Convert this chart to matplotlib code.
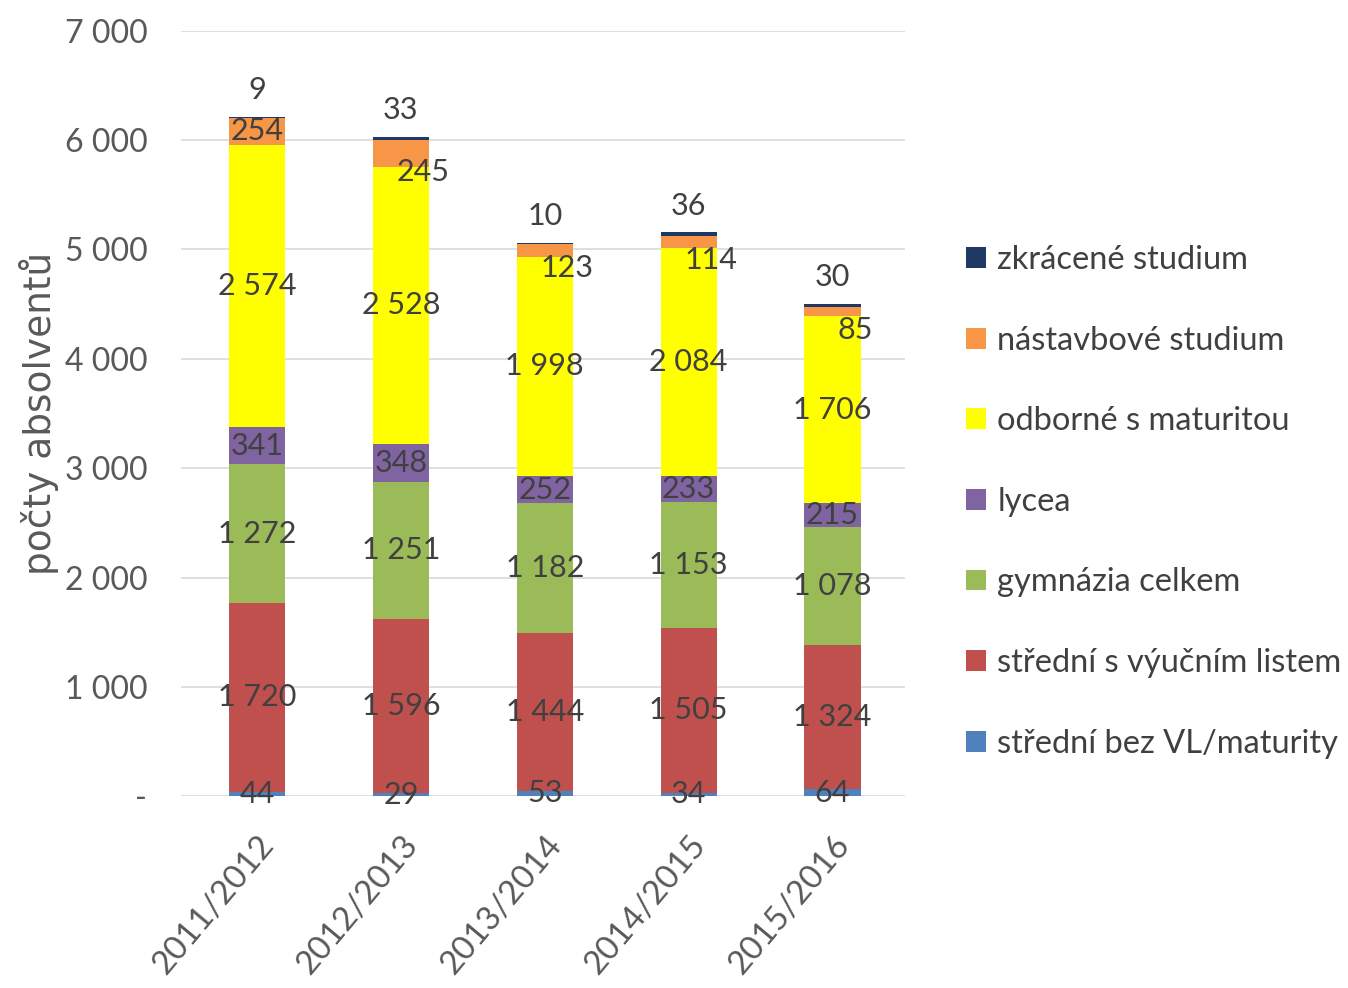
import matplotlib
matplotlib.use("Agg")
import matplotlib.pyplot as plt
import numpy as np
from matplotlib.ticker import FuncFormatter

# school years on the x axis
years = ["2011/2012", "2012/2013", "2013/2014", "2014/2015", "2015/2016"]

# graduates per type of study, bottom to top of each stack
stredni_bez_vl = [44, 29, 53, 34, 64]
stredni_s_vl = [1720, 1596, 1444, 1505, 1324]
gymnazia = [1272, 1251, 1182, 1153, 1078]
lycea = [341, 348, 252, 233, 215]
odborne_mat = [2574, 2528, 1998, 2084, 1706]
nastavbove = [254, 245, 123, 114, 85]
zkracene = [9, 33, 10, 36, 30]

series_names = ["střední bez VL/maturity", "střední s výučním listem", "gymnázia celkem",
                "lycea", "odborné s maturitou", "nástavbové studium", "zkrácené studium"]
series_values = [stredni_bez_vl, stredni_s_vl, gymnazia, lycea, odborne_mat, nastavbove, zkracene]
colors = ["#4f81bd", "#c0504d", "#9bbb59", "#8064a2", "#ffff00", "#f79646", "#1f3864"]

narrow = ["Lato", "DejaVu Sans"]
label_color = "#404040"
tick_color = "#595959"


def thousands(v, pos=None):
    if v == 0:
        return "-"
    return f"{int(v):,}".replace(",", " ")


fig = plt.figure(figsize=(13.48, 9.88), dpi=100)
ax = fig.add_axes([0.134, 0.194, 0.537, 0.775])

x = np.arange(len(years))
bottom = np.zeros(len(years))
for i, (name, vals, col) in enumerate(zip(series_names, series_values, colors)):
    vals = np.array(vals, dtype=float)
    ax.bar(x, vals, bottom=bottom, width=0.39, color=col, label=name, zorder=2)
    for j, v in enumerate(vals):
        if i == 6:
            # top series: label above the stack
            ax.annotate(thousands(v), (x[j], bottom[j] + v), xytext=(0, 9),
                        textcoords="offset points", ha="center", va="bottom",
                        fontsize=22, color=label_color, family=narrow)
        elif i == 5 and j > 0:
            # orange labels sit a bit lower and to the right
            ax.annotate(thousands(v), (x[j], bottom[j] + v / 2), xytext=(16, -13),
                        textcoords="offset points", ha="center", va="center",
                        fontsize=22, color=label_color, family=narrow)
        else:
            ax.text(x[j], bottom[j] + v / 2, thousands(v), ha="center", va="center",
                    fontsize=22, color=label_color, family=narrow)
    bottom += vals

ax.set_xlim(-0.53, 4.5)
ax.set_ylim(0, 7000)
ax.set_yticks(np.arange(0, 7001, 1000))
ax.yaxis.set_major_formatter(FuncFormatter(thousands))
ax.grid(axis="y", color="#d9d9d9", linewidth=1.2, zorder=0)
for s in ax.spines.values():
    s.set_visible(False)
ax.tick_params(axis="both", length=0, colors=tick_color)
ax.tick_params(axis="y", pad=24, labelsize=23)
ax.tick_params(axis="x", pad=24, labelsize=24)
ax.set_xticks(x)
ax.set_xticklabels(years, rotation=50, ha="right", rotation_mode="anchor")
for lab in ax.get_xticklabels() + ax.get_yticklabels():
    lab.set_family(narrow)

ax.set_ylabel("počty absolventů", fontsize=27, color=tick_color)
ax.yaxis.set_label_coords(-0.168, 0.5)

handles, labels = ax.get_legend_handles_labels()
leg = fig.legend(handles[::-1], labels[::-1], loc="center left", bbox_to_anchor=(0.695, 0.492),
                 frameon=False, handlelength=0.6, handleheight=0.6, handletextpad=0.35,
                 labelspacing=1.55, prop={"family": narrow, "size": 23.5})
for t in leg.get_texts():
    t.set_color(label_color)

fig.savefig("out.png", dpi=100)
